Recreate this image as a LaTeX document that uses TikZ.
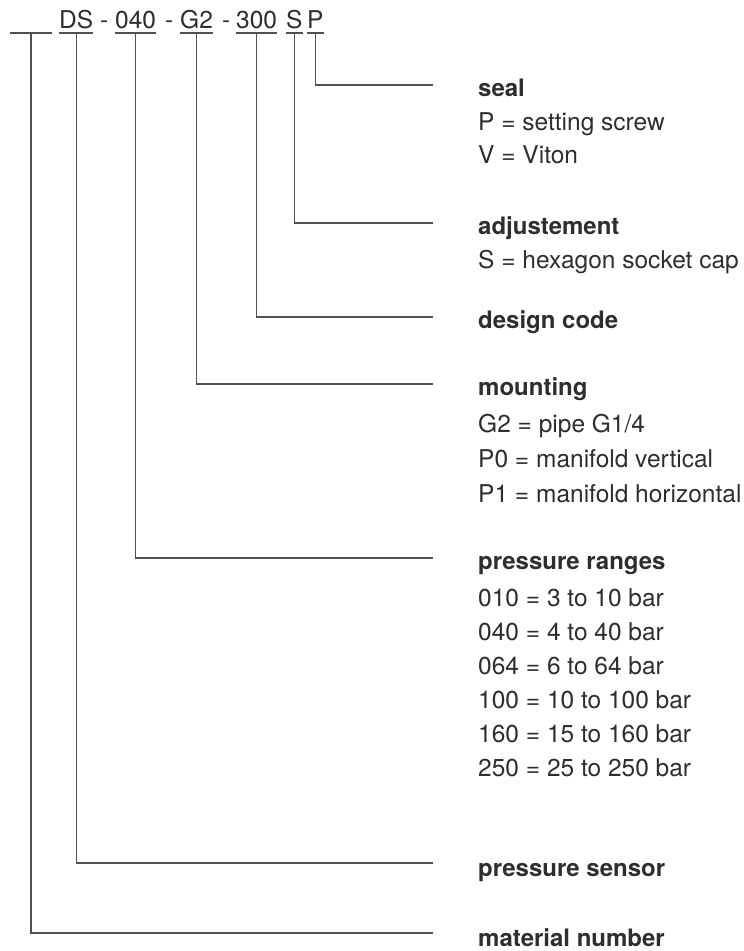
\documentclass[tikz,border=0pt]{standalone}
\usepackage{fontspec}
\setmainfont{TeX Gyre Heros}
\definecolor{textgray}{HTML}{2E2E2E}
\definecolor{linegray}{HTML}{505050}
\begin{document}
\begin{tikzpicture}[x=1pt,y=-1pt,
  txt/.style={anchor=base west, inner sep=0pt, text=textgray, font=\fontsize{24.5}{28}\selectfont},
  ttl/.style={txt, font=\fontsize{24}{28}\selectfont\bfseries},
  lead/.style={draw=linegray, line width=1.3pt}]
\useasboundingbox (0,0) rectangle (744,951);

% header tokens
\node[txt] (ds)  at (59,28)  {DS};
\node[txt] (h1)  at (100,28) {-};
\node[txt] (pr)  at (115,28) {040};
\node[txt] (h2)  at (165,28) {-};
\node[txt] (mt)  at (180,28) {G2};
\node[txt] (h3)  at (222,28) {-};
\node[txt] (dc)  at (236,28) {300};
\node[txt] (ad)  at (286,28) {S};
\node[txt] (sl)  at (307,28) {P};
\coordinate (blL) at (10,33);
\coordinate (blR) at (52,33);
\coordinate (bl) at (31,33);

% underlines
\draw[lead] (blL) -- (blR);
\foreach \t in {ds,pr,mt,dc,ad,sl}
  \draw[lead] ([yshift=-5pt]\t.base west) -- ([yshift=-5pt]\t.base east);

% line ends
\coordinate (e-sl) at (433,85);
\coordinate (e-ad) at (433,223);
\coordinate (e-dc) at (433,317);
\coordinate (e-mt) at (433,384);
\coordinate (e-pr) at (433,558);
\coordinate (e-ds) at (433,863);
\coordinate (e-bl) at (433,933);

% connectors
\draw[lead] ([yshift=-5pt]sl.base) |- (e-sl);
\draw[lead] ([yshift=-5pt]ad.base) |- (e-ad);
\draw[lead] ([yshift=-5pt]dc.base) |- (e-dc);
\draw[lead] ([yshift=-5pt]mt.base) |- (e-mt);
\draw[lead] ([yshift=-5pt]pr.base) |- (e-pr);
\draw[lead] ([yshift=-5pt]ds.base) |- (e-ds);
\draw[lead] (bl) |- (e-bl);

% labels
\node[ttl] (t-sl) at (478,96)  {seal};
\node[txt] (s-sl1) at (478,130) {P = setting screw};
\node[txt] (s-sl2) at (478,163) {V = Viton};

\node[ttl] (t-ad) at (478,234) {adjustement};
\node[txt] (s-ad1) at (478,268) {S = hexagon socket cap};

\node[ttl] (t-dc) at (478,328) {design code};

\node[ttl] (t-mt) at (478,395) {mounting};
\node[txt] (s-mt1) at (478,432) {G2 = pipe G1/4};
\node[txt] (s-mt2) at (478,467) {P0 = manifold vertical};
\node[txt] (s-mt3) at (478,502) {P1 = manifold horizontal};

\node[ttl] (t-pr) at (478,569) {pressure ranges};
\node[txt] (s-pr1) at (478,606) {010 = 3 to 10 bar};
\node[txt] (s-pr2) at (478,640) {040 = 4 to 40 bar};
\node[txt] (s-pr3) at (478,674) {064 = 6 to 64 bar};
\node[txt] (s-pr4) at (478,708) {100 = 10 to 100 bar};
\node[txt] (s-pr5) at (478,742) {160 = 15 to 160 bar};
\node[txt] (s-pr6) at (478,776) {250 = 25 to 250 bar};

\node[ttl] (t-ds) at (478,876) {pressure sensor};
\node[ttl] (t-bl) at (478,946) {material number};
\end{tikzpicture}
\end{document}
